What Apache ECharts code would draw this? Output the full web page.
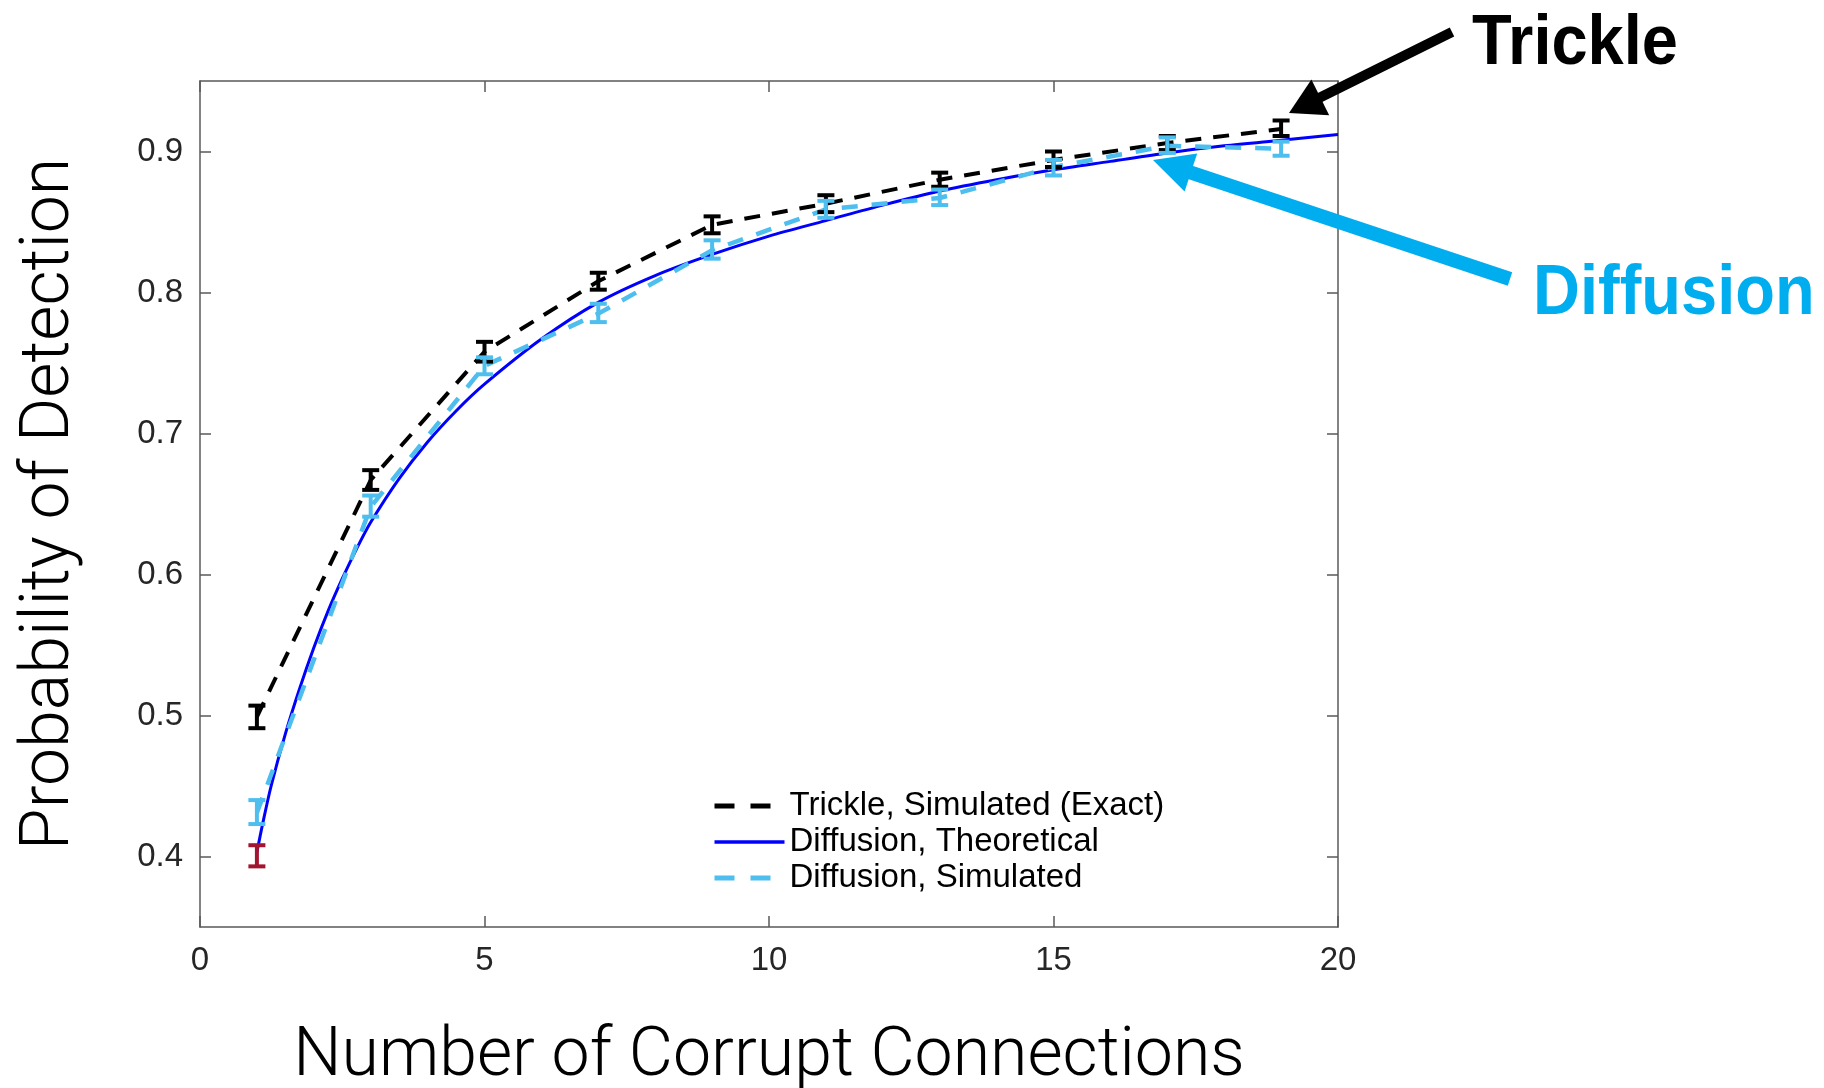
<!DOCTYPE html>
<html><head><meta charset="utf-8">
<script src="https://cdn.jsdelivr.net/npm/echarts@6/dist/echarts.min.js"></script>
<style>html,body{margin:0;padding:0;background:#fff}#c{width:1824px;height:1088px}</style>
</head><body><div id="c"></div>
<script>
// ---- data ----
const xSim = [1, 3, 5, 7, 9, 11, 13, 15, 17, 19];
const trickleMean = [0.499, 0.667, 0.758, 0.808, 0.848, 0.863, 0.880, 0.894, 0.906, 0.916];
const trickleLow  = [0.491, 0.660, 0.751, 0.802, 0.842, 0.857, 0.875, 0.889, 0.901, 0.911];
const trickleHigh = [0.507, 0.674, 0.765, 0.814, 0.854, 0.869, 0.885, 0.900, 0.911, 0.922];

const diffSimMean = [0.431, 0.648, 0.748, 0.785, 0.830, 0.859, 0.867, 0.889, 0.904, 0.902];
const diffSimLow  = [0.423, 0.641, 0.742, 0.779, 0.824, 0.853, 0.862, 0.883, 0.899, 0.897];
const diffSimHigh = [0.440, 0.656, 0.754, 0.792, 0.837, 0.865, 0.873, 0.894, 0.910, 0.907];

const redX = [1];
const redLow = [0.393];
const redHigh = [0.408];

const theoX = [1.0, 1.1, 1.25, 1.5, 1.75, 2.0, 2.25, 2.5, 2.75, 3.0, 3.5, 4.0, 4.5, 5.0, 6.0, 7.0, 8.0, 9.0, 10.0, 11.0, 12.0, 13.0, 14.0, 15.0, 16.0, 17.0, 18.0, 19.0, 20.0];
const theoY = [0.403, 0.423, 0.450, 0.487, 0.519, 0.548, 0.574, 0.597, 0.618, 0.637, 0.668, 0.694, 0.716, 0.735, 0.767, 0.793, 0.812, 0.827, 0.840, 0.851, 0.862, 0.872, 0.880, 0.887, 0.893, 0.899, 0.904, 0.908, 0.912];

const xTicks = [0, 5, 10, 15, 20];
const yTicks = [0.4, 0.5, 0.6, 0.7, 0.8, 0.9];

const legendNames = ['Trickle, Simulated (Exact)', 'Diffusion, Theoretical', 'Diffusion, Simulated'];
const xTitle = 'Number of Corrupt Connections';
const yTitle = 'Probability of Detection';

// ---- styles ----
const C_BLACK = '#000000', C_BLUE = '#0000ff', C_LBLUE = '#4dbeee', C_RED = '#a2142f', C_CYAN = '#00aeef';
const AX = '#5a5a5a';

const chart = echarts.init(document.getElementById('c'), null, {renderer: 'canvas'});

function errorBars(name, color, xs, lows, highs, z) {
  return {
    type: 'custom', name: name, z: z, silent: true,
    xAxisIndex: 0, yAxisIndex: 0,
    data: xs.map((x, i) => [x, lows[i], highs[i]]),
    encode: {x: 0, y: [1, 2]},
    renderItem: function (params, api) {
      const x = api.value(0);
      const lo = api.coord([x, api.value(1)]);
      const hi = api.coord([x, api.value(2)]);
      const hw = 8.5;
      const style = {stroke: color, lineWidth: 4, fill: null};
      return {type: 'group', children: [
        {type: 'line', shape: {x1: lo[0], y1: lo[1], x2: hi[0], y2: hi[1]}, style: style},
        {type: 'line', shape: {x1: lo[0] - hw, y1: lo[1], x2: lo[0] + hw, y2: lo[1]}, style: style},
        {type: 'line', shape: {x1: hi[0] - hw, y1: hi[1], x2: hi[0] + hw, y2: hi[1]}, style: style}
      ]};
    }
  };
}

const baseXAxis = {
  type: 'value', min: 0, max: 20, interval: 5,
  axisLine: {show: true, onZero: false, lineStyle: {color: AX, width: 1.5}},
  axisTick: {show: true, inside: true, length: 11, lineStyle: {color: AX, width: 1.5}},
  splitLine: {show: false}
};
const baseYAxis = {
  type: 'value', min: 0.35, max: 0.95,
  axisLine: {show: true, onZero: false, lineStyle: {color: AX, width: 1.5}},
  axisTick: {show: true, inside: true, length: 11, customValues: yTicks, lineStyle: {color: AX, width: 1.5}},
  splitLine: {show: false}
};

const option = {
  backgroundColor: '#ffffff',
  animation: false,
  grid: {left: 200, right: 486, top: 81, bottom: 161, containLabel: false, outerBoundsMode: 'none'},
  xAxis: [
    Object.assign({}, baseXAxis, {
      position: 'bottom',
      axisLabel: {show: true, margin: 17, fontFamily: 'Liberation Sans', fontSize: 33, color: '#262626',
        customValues: xTicks, formatter: v => String(v)},
      name: xTitle, nameLocation: 'middle', nameGap: 97,
      nameTextStyle: {fontFamily: 'Roboto', fontWeight: 300, fontSize: 68, color: '#000'}
    }),
    Object.assign({}, baseXAxis, {position: 'top', axisLabel: {show: false}})
  ],
  yAxis: [
    Object.assign({}, baseYAxis, {
      position: 'left',
      axisLabel: {show: true, margin: 17, fontFamily: 'Liberation Sans', fontSize: 33, color: '#262626',
        customValues: yTicks, formatter: v => v.toFixed(1)},
      name: yTitle, nameLocation: 'middle', nameGap: 115, nameRotate: 90,
      nameTextStyle: {fontFamily: 'Roboto', fontWeight: 300, fontSize: 68, color: '#000'}
    }),
    Object.assign({}, baseYAxis, {position: 'right', axisLabel: {show: false}})
  ],
  legend: {
    orient: 'vertical', left: 712, top: 788, padding: 0, itemGap: 0,
    itemWidth: 70, itemHeight: 12,
    itemStyle: {opacity: 0},
    textStyle: {fontFamily: 'Liberation Sans', fontSize: 33, color: '#000', lineHeight: 36, height: 36},
    data: [
      {name: legendNames[0], lineStyle: {type: [20, 16], width: 5}},
      {name: legendNames[1], lineStyle: {width: 3.5}},
      {name: legendNames[2], lineStyle: {type: [20, 16], width: 5}}
    ]
  },
  series: [
    {
      name: legendNames[1], type: 'line', symbol: 'none', smooth: 0.3, z: 3,
      data: theoX.map((x, i) => [x, theoY[i]]),
      lineStyle: {color: C_BLUE, width: 3}, itemStyle: {color: C_BLUE}
    },
    {
      name: legendNames[0], type: 'line', symbol: 'none', z: 4,
      data: xSim.map((x, i) => [x, trickleMean[i]]),
      lineStyle: {color: C_BLACK, width: 4, type: [16, 12]}, itemStyle: {color: C_BLACK}
    },
    {
      name: legendNames[2], type: 'line', symbol: 'none', z: 5,
      data: xSim.map((x, i) => [x, diffSimMean[i]]),
      lineStyle: {color: C_LBLUE, width: 4.5, type: [16, 14]}, itemStyle: {color: C_LBLUE}
    },
    errorBars('eb-trickle', C_BLACK, xSim, trickleLow, trickleHigh, 6),
    errorBars('eb-diffsim', C_LBLUE, xSim, diffSimLow, diffSimHigh, 6),
    errorBars('eb-red', C_RED, redX, redLow, redHigh, 6)
  ],
  graphic: [
    // Trickle annotation arrow
    {type: 'line', shape: {x1: 1452, y1: 32, x2: 1318, y2: 98.5}, style: {stroke: C_BLACK, lineWidth: 10, lineCap: 'butt'}, z: 100},
    {type: 'polygon', shape: {points: [[1289, 113], [1329.2, 115.3], [1311.4, 79.5]]}, style: {fill: C_BLACK}, z: 100},
    {type: 'text', x: 1472, y: 10, scaleY: 1.07, style: {text: 'Trickle', font: 'bold 65px "Liberation Sans"', fill: C_BLACK}, z: 100},
    // Diffusion annotation arrow
    {type: 'line', shape: {x1: 1510, y1: 279, x2: 1188, y2: 171.6}, style: {stroke: C_CYAN, lineWidth: 14, lineCap: 'butt'}, z: 100},
    {type: 'polygon', shape: {points: [[1153, 160], [1197.2, 153.6], [1184.6, 191.6]]}, style: {fill: C_CYAN}, z: 100},
    {type: 'text', x: 1533, y: 260, scaleY: 1.07, style: {text: 'Diffusion', font: 'bold 65px "Liberation Sans"', fill: C_CYAN}, z: 100}
  ]
};
chart.setOption(option);
</script>
</body></html>
